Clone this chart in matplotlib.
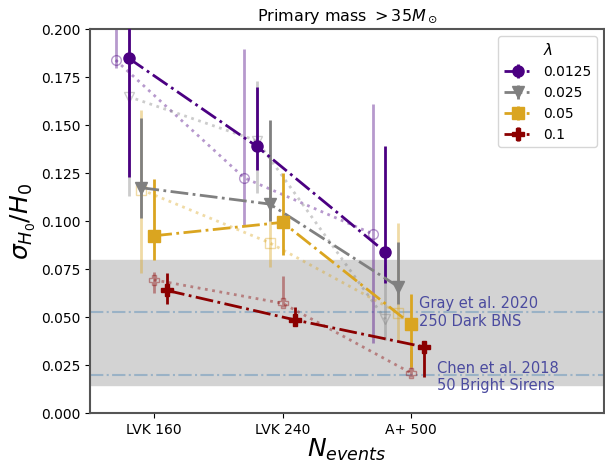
import matplotlib
matplotlib.use("Agg")
import matplotlib.pyplot as plt
import numpy as np

# ── data ───────────────────────────────────────────────────────────────────────
scenarios = ["LVK 160", "LVK 240", "A+ 500"]
lambdas   = ["0.0125", "0.025", "0.05", "0.1"]
colors    = ["#4b0082", "gray", "#daa520", "#8b0000"]
markers   = ["o", "v", "s", "P"]

# filled points (dash-dot)
val_fill = [[0.185, 0.139, 0.084],
            [0.1175, 0.109, 0.066],
            [0.0925, 0.0995, 0.0465],
            [0.064, 0.0486, 0.0346]]
lo_fill  = [[0.123, 0.127, 0.068],
            [0.102, 0.100, 0.057],
            [0.080, 0.0825, 0.024],
            [0.057, 0.046, 0.019]]
hi_fill  = [[0.215, 0.170, 0.139],
            [0.154, 0.153, 0.089],
            [0.122, 0.125, 0.062],
            [0.073, 0.0555, 0.0366]]

# open points (dotted, faded)
val_open = [[0.184, 0.1227, 0.0935],
            [0.165, 0.142, 0.049],
            [0.1165, 0.0888, 0.0524],
            [0.0695, 0.0573, 0.021]]
lo_open  = [[0.180, 0.098, 0.0366],
            [0.113, 0.115, 0.038],
            [0.073, 0.076, 0.038],
            [0.0627, 0.0554, 0.019]]
hi_open  = [[0.220, 0.190, 0.161],
            [0.210, 0.173, 0.078],
            [0.158, 0.120, 0.099],
            [0.0736, 0.0716, 0.033]]

ref_vals   = [0.053, 0.020]
ref_labels = ["Gray et al. 2020\n250 Dark BNS", "Chen et al. 2018\n50 Bright Sirens"]
band       = (0.015, 0.080)

# ── plot ───────────────────────────────────────────────────────────────────────
fig = plt.figure(figsize=(6.05, 4.66), dpi=100)
ax = fig.add_axes([0.1488, 0.113, 0.849, 0.824])

ax.axhspan(*band, color="#d3d3d3", zorder=0)
for v in ref_vals:
    ax.axhline(v, color="steelblue", alpha=0.4, ls="-.", lw=1.5, zorder=1)
ax.text(2.06, 0.0525, ref_labels[0], color="#4b4b9f", fontsize=10.5, va="center")
ax.text(2.2, 0.019, ref_labels[1], color="#4b4b9f", fontsize=10.5, va="center")

x = np.arange(len(scenarios))
handles = []
for i in range(len(lambdas)):
    xo = x - 0.3 + 0.1 * i
    v, lo, hi = np.array(val_open[i]), np.array(lo_open[i]), np.array(hi_open[i])
    ax.errorbar(xo, v, yerr=[v - lo, hi - v], color=colors[i], marker=markers[i],
                mfc="none", ms=7, ls=":", lw=2, elinewidth=2, alpha=0.4, zorder=2)

for i in range(len(lambdas)):
    xf = x - 0.2 + 0.1 * i
    v, lo, hi = np.array(val_fill[i]), np.array(lo_fill[i]), np.array(hi_fill[i])
    h = ax.errorbar(xf, v, yerr=[v - lo, hi - v], color=colors[i], marker=markers[i],
                    ms=8, ls="-.", lw=2, elinewidth=2, label=lambdas[i], zorder=3)
    handles.append(h)

ax.set_xlim(-0.5, 3.5)
ax.set_ylim(0, 0.2)
ax.set_xticks(x)
ax.set_xticklabels(scenarios, fontsize=10)
ax.set_yticks(np.arange(0, 0.2001, 0.025))
ax.yaxis.set_major_formatter(matplotlib.ticker.FormatStrFormatter("%.3f"))
ax.tick_params(labelsize=10)
for s in ax.spines.values():
    s.set_color("#555555")
    s.set_linewidth(1.5)

ax.set_title(r"Primary mass $>35M_\odot$", fontsize=11.5)
ax.set_ylabel(r"$\sigma_{H_0}/H_0$", fontsize=18, labelpad=2)
ax.set_xlabel(r"$N_{events}$", fontsize=18, labelpad=0)
ax.legend(handles=handles, title=r"$\lambda$", loc="upper right", fontsize=10,
          title_fontsize=11)

fig.savefig("out.png", dpi=100)
